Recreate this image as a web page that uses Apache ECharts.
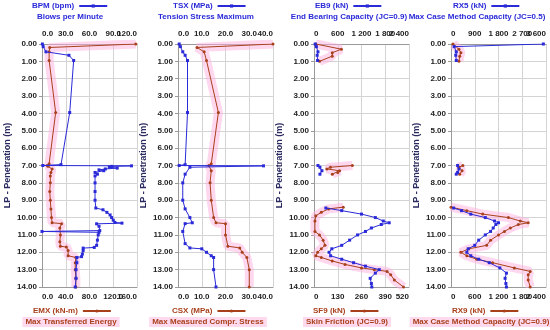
<!DOCTYPE html>
<html>
<head>
<meta charset="utf-8">
<script src="https://cdn.jsdelivr.net/npm/echarts@6/dist/echarts.min.js"></script>
<style>
html,body{margin:0;padding:0;background:#fff;}
#main{width:550px;height:330px;}
</style>
</head>
<body>
<div id="main"></div>
<script>
// panel 1 : BPM (top) / EMX (bottom)
var bpmDepth = [0,0.15,0.45,0.65,0.95,3.95,6.95,7.0,7.02,7.05,7.1,7.15,7.2,7.25,7.3,7.4,7.5,7.6,8.0,8.5,9.0,9.45,9.55,9.7,9.85,10.0,10.15,10.28,10.32,10.36,10.5,10.75,10.8,10.85,11.0,11.3,11.6,11.72,11.76,11.9,12.1,12.25,12.3,12.6,13.0,13.5,14.0];
var bpmValue = [0.5,1.5,5,34,40,35,24,1,113,88,85,95,80,72,78,67,70,67,67,67,67,68,77,82,86,88,90,92,101,69,72,73,0,72,71,70,69,66,52,52,51,50,44,44,43,43,42];
var emxDepth = [0,0.2,0.45,0.95,3.95,6.9,7.0,7.05,7.2,7.4,7.6,8.0,8.5,9.0,9.5,10.0,10.3,10.35,10.6,11.0,11.4,11.65,11.7,11.9,12.2,12.3,12.6,13.0,13.5,14.0];
var emxValue = [158,13,12,12,23,12,9,10,17,15,14,14,13,14,15,16,17,33,30,31,30,31,41,44,44,57,56,56,57,57];

// panel 2 : TSX (top) / CSX (bottom)
var tsxDepth = [0,0.15,0.45,0.65,0.95,3.95,6.95,7.0,7.02,7.1,7.5,8.0,9.0,9.5,10.0,10.3,10.35,10.8,11.5,11.75,11.8,12.0,12.2,12.3,13.0,14.0];
var tsxValue = [0.5,1,2,3,4,4,3,0.5,36,5,3,2,2,3,5,6,3,2,3,5,10,12,14,15,15,16];
var csxDepth = [0,0.2,0.45,0.95,3.95,6.9,7.0,7.3,8.0,9.0,10.0,10.3,10.35,11.0,11.65,11.75,12.0,12.3,13.0,14.0];
var csxValue = [40,8,11,12,17,14,13,14,13.5,14,15,16,20,20,21,26,27,29,30,30];

// panel 3 : EB9 (top) / SF9 (bottom)
var eb9Depth = [0,0.15,0.45,0.65,0.95,3,7.0,7.1,7.3,7.5,8,9.45,9.6,9.8,10.0,10.2,10.3,10.4,10.6,10.8,11.0,11.3,11.6,11.8,12.0,12.2,12.4,12.6,12.8,13.0,13.2,13.5,13.8,14.0];
var eb9Value = [30,60,100,80,90,null,100,150,200,150,null,300,700,1200,1550,1750,1900,1700,1450,1300,1100,900,700,450,380,420,700,1000,1300,1650,1550,1420,1450,1460];
var sf9Depth = [0,0.3,0.5,0.7,1.0,3,7.0,7.1,7.2,7.3,7.4,7.5,8,9.4,9.5,9.7,9.9,10.2,10.8,11.0,11.3,11.6,11.8,12.0,12.2,12.3,12.5,12.7,12.9,13.0,13.1,13.3,13.6,14.0];
var sf9Value = [10,150,100,100,30,null,210,90,70,140,130,100,null,160,80,40,10,5,5,30,50,60,40,20,10,40,100,170,260,330,400,420,440,490];

// panel 4 : RX5 (top) / RX9 (bottom)
var rx5Depth = [0,0.15,0.45,0.65,0.95,3,7.0,7.2,7.4,7.5,8,9.45,9.6,9.8,10.0,10.2,10.3,10.4,10.6,10.8,11.0,11.3,11.6,11.8,12.0,12.2,12.4,12.6,12.9,13.2,13.5,13.8,14.0];
var rx5Value = [3500,120,200,180,200,null,250,300,250,200,null,100,400,750,1300,1650,1800,1700,1600,1500,1300,1050,900,650,600,750,1050,1450,1850,2100,2050,2080,2100];
var rx9Depth = [0,0.3,0.5,0.7,1.0,3,7.0,7.1,7.3,7.5,8,9.4,9.6,9.8,10.0,10.2,10.3,10.4,10.6,10.8,11.0,11.3,11.6,11.8,12.0,12.2,12.4,12.6,12.9,13.1,13.3,13.6,14.0];
var rx9Value = [50,200,250,220,200,null,300,200,280,220,null,0,400,800,1450,1750,1950,1700,1500,1350,1200,1000,900,450,250,400,650,1050,1600,2000,1950,1950,2000];

// axis maxima (4 intervals each)
var topMax = [120,40,2400,3600];
var botMax = [160,40,520,2400];
var topNames = ['BPM (bpm)','TSX (MPa)','EB9 (kN)','RX5 (kN)'];
var topSubs = ['Blows per Minute','Tension Stress Maximum','End Bearing Capacity (JC=0.9)','Max Case Method Capacity (JC=0.5)'];
var botNames = ['EMX (kN-m)','CSX (MPa)','SF9 (kN)','RX9 (kN)'];
var botSubs = ['Max Transferred Energy','Max Measured Compr. Stress','Skin Friction (JC=0.9)','Max Case Method Capacity (JC=0.9)'];

var topData = [[bpmDepth,bpmValue],[tsxDepth,tsxValue],[eb9Depth,eb9Value],[rx5Depth,rx5Value]];
var botData = [[emxDepth,emxValue],[csxDepth,csxValue],[sf9Depth,sf9Value],[rx9Depth,rx9Value]];

var BLUE = '#2a2ad8';
var RED = '#a8401c';
var lefts = [42,178,314,451];
var W = 95;
// header / footer text placement
var topLegLeft = [32,173,315,453];
var topSubCx = [70,206,349,477];
var botLegLeft = [33,172,313,452];
var botSubCx = [68,205,344,478];

function pairs(d){
	return d[0].map(function(y,i){ return [d[1][i]==null ? '-' : d[1][i], y]; });
}
function fmtDec(v){ return v.toFixed(1); }
function fmtKn(v){ return String(v).replace(/\B(?=(\d{3})+(?!\d))/g,' '); }

var chart = echarts.init(document.getElementById('main'));
var option = {
	animation:false,
	backgroundColor:'#fff',
	textStyle:{fontFamily:'Liberation Sans, Arial'},
	grid:[], xAxis:[], yAxis:[], series:[], legend:[], title:[]
};

// value axis; "part" = 'main' (all labels but the last) or 'last' (only the right-aligned max label)
function xAxisOf(p, pos, max, fmt, part, split){
	return {
		gridIndex:p, type:'value', position:pos, min:0, max:max, interval:max/4,
		axisLine:{show:part==='main', lineStyle:{color:'#999'}},
		axisTick:{show:false},
		axisLabel:{color:'#222', fontSize:8, fontWeight:'bold', margin:6,
			showMinLabel:part==='main', showMaxLabel:part==='last',
			alignMinLabel:'left', alignMaxLabel:'right',
			formatter:function(v){
				if(part==='last') return v===max ? fmt(v) : '';
				return v===max ? '' : fmt(v);
			}},
		splitLine:{show:split, lineStyle:{color:'#d4d4d4'}}
	};
}

for(var p=0;p<4;p++){
	var fmt = p<2 ? fmtDec : fmtKn;
	option.grid.push({left:lefts[p], top:44, width:W, height:243, containLabel:false});
	option.yAxis.push({
		gridIndex:p, type:'value', inverse:true, min:0, max:14, interval:1,
		name:'LP - Penetration (m)', nameLocation:'middle', nameGap:30, nameRotate:90,
		nameTextStyle:{color:'#2a2a60', fontSize:9, fontWeight:'bold'},
		axisLine:{show:true, lineStyle:{color:'#999'}},
		axisTick:{show:true, length:3, lineStyle:{color:'#999'}},
		axisLabel:{color:'#222', fontSize:8, fontWeight:'bold', margin:5,
			showMinLabel:true, showMaxLabel:true, formatter:function(v){return v.toFixed(2);}},
		splitLine:{show:true, lineStyle:{color:'#d4d4d4'}}
	});
	option.xAxis.push(xAxisOf(p,'top',topMax[p],fmt,'main',true));      // 4p
	option.xAxis.push(xAxisOf(p,'bottom',botMax[p],fmt,'main',false));  // 4p+1
	option.xAxis.push(xAxisOf(p,'top',topMax[p],fmt,'last',false));     // 4p+2
	option.xAxis.push(xAxisOf(p,'bottom',botMax[p],fmt,'last',false));  // 4p+3

	// pink band under the red series
	option.series.push({
		name:botNames[p]+' band', type:'line', xAxisIndex:4*p+1, yAxisIndex:p,
		data:pairs(botData[p]), symbol:'none', silent:true, z:1,
		lineStyle:{width:9, color:'rgba(255,175,222,0.5)'}
	});
	option.series.push({
		name:topNames[p], type:'line', xAxisIndex:4*p, yAxisIndex:p,
		data:pairs(topData[p]), symbol:'rect', symbolSize:3, z:3,
		itemStyle:{color:BLUE}, lineStyle:{width:1, color:BLUE}
	});
	option.series.push({
		name:botNames[p], type:'line', xAxisIndex:4*p+1, yAxisIndex:p,
		data:pairs(botData[p]), symbol:'circle', symbolSize:3, z:2,
		itemStyle:{color:RED}, lineStyle:{width:1, color:RED}
	});
	option.legend.push({
		data:[topNames[p]], top:2, left:topLegLeft[p], align:'right', padding:0,
		itemWidth:28, itemHeight:4, itemGap:4,
		textStyle:{color:BLUE, fontSize:8, fontWeight:'bold'}, selectedMode:false
	});
	option.legend.push({
		data:[botNames[p]], top:307, left:botLegLeft[p], align:'right', padding:0,
		itemWidth:28, itemHeight:4, itemGap:4,
		textStyle:{color:RED, fontSize:8, fontWeight:'bold'}, selectedMode:false
	});
	option.title.push({
		text:topSubs[p], left:topSubCx[p], top:13, textAlign:'center', padding:0,
		textStyle:{color:BLUE, fontSize:8, fontWeight:'bold'}
	});
	option.title.push({
		text:botSubs[p], left:botSubCx[p], top:317, textAlign:'center', padding:[1,3],
		backgroundColor:'#ffd9ee',
		textStyle:{color:RED, fontSize:8, fontWeight:'bold'}
	});
}

chart.setOption(option);
</script>
</body>
</html>
